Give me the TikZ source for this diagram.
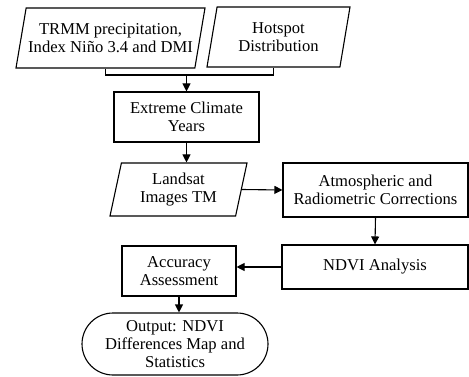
\documentclass[tikz,border=0pt]{standalone}
\usepackage{fontspec}
\setmainfont{Liberation Serif}
\usetikzlibrary{shapes.geometric,shapes.misc,arrows.meta}

\tikzset{
  databox/.style={draw, line width=1.1pt, trapezium, trapezium left angle=72,
    trapezium right angle=108, trapezium stretches body, align=center, inner sep=1pt},
  procbox/.style={draw, line width=1.1pt, rectangle, align=center, inner sep=1pt},
  endbox/.style={draw, line width=1.1pt, rounded rectangle, align=center, inner sep=1pt},
  link/.style={line width=1.1pt, -{Triangle[length=8pt,width=8pt]}}
}

\begin{document}
\begin{tikzpicture}[x=1pt,y=-1pt,font=\fontsize{16.6}{18}\selectfont]
\useasboundingbox (0,0) rectangle (469,377);
\node[databox, minimum width=189pt, minimum height=60pt] (trmm) at (110.5,38) {TRMM precipitation,\\Index Niño 3.4 and DMI};
\node[databox, minimum width=143pt, minimum height=60pt] (hotspot) at (278.5,37) {Hotspot\\Distribution};
\node[procbox, minimum width=145pt, minimum height=50pt] (extreme) at (186.5,117) {Extreme Climate\\Years};
\node[databox, minimum width=137pt, minimum height=53pt] (landsat) at (178.5,189.5) {Landsat\\Images TM};
\node[procbox, minimum width=185pt, minimum height=54pt] (correct) at (375.5,190) {Atmospheric and\\Radiometric Corrections};
\node[procbox, minimum width=186pt, minimum height=44pt] (ndvi) at (375,267) {NDVI Analysis};
\node[procbox, minimum width=114pt, minimum height=50pt] (accuracy) at (179,271) {Accuracy\\Assessment};
\node[endbox, minimum width=188pt, minimum height=62pt] (output) at (175,344) {Output: NDVI\\Differences Map and\\Statistics};

\coordinate (merge) at (extreme.north |- 0,75);
\draw[line width=1.1pt] (trmm.bottom side) |- (merge) -| (hotspot.bottom side);
\draw[link] (merge) -- (extreme.north);
\draw[link] (extreme.south) -- (extreme.south |- landsat.north);
\draw[link] (landsat.right side) -- (correct.west);
\draw[link] (correct.south) -- (ndvi.north);
\draw[link] (ndvi.west) -- (ndvi.west -| accuracy.east);
\draw[link] (accuracy.south) -- (accuracy.south |- output.north);
\end{tikzpicture}
\end{document}
